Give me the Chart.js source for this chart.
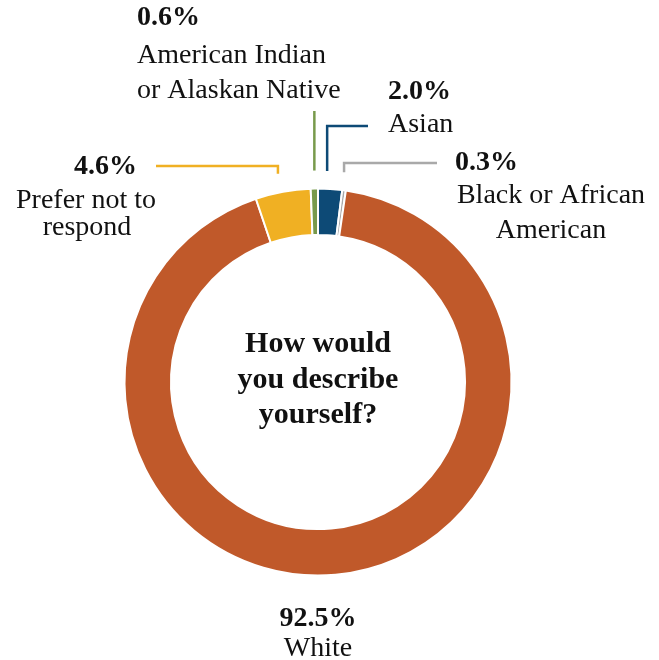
<!DOCTYPE html>
<html>
<head>
<meta charset="utf-8">
<script src="https://cdn.jsdelivr.net/npm/chart.js@4.4.1/dist/chart.umd.min.js"></script>
<style>
  html, body { margin: 0; padding: 0; background: #fff; }
  #wrap { width: 659px; height: 660px; }
</style>
</head>
<body>
<div id="wrap"><canvas id="grafico"></canvas></div>
<script>
const categorias = ['Asian', 'Black or African American', 'White', 'Prefer not to respond', 'American Indian or Alaskan Native'];
const percentuais = [2.0, 0.3, 92.5, 4.6, 0.6];
const cores = ['#0d4a76', '#a9a9a9', '#c0592a', '#f0b023', '#789a4c'];
const titulo = ['How would', 'you describe', 'yourself?'];

const FONTE = '"Liberation Serif", "Times New Roman", serif';

// rótulos de cada fatia (mesma ordem das categorias)
// pct: [x, baseline, align]; linhas: [texto, x, baseline, align]; guia: linha até a fatia
const rotulos = [
  { pct: [388, 99, 'left'], linhas: [['Asian', 388, 132, 'left']],
    guia: { dx: -3, topo: 126, ateX: 368 } },
  { pct: [455, 170, 'left'], linhas: [['Black or African', 551, 203, 'center'], ['American', 551, 238, 'center']],
    guia: { dx: 0, topo: 163, ateX: 437 } },
  { pct: [318, 626, 'center'], linhas: [['White', 318, 656, 'center']], guia: null },
  { pct: [137, 174, 'right'], linhas: [['Prefer not to', 86, 208, 'center'], ['respond', 87, 235, 'center']],
    guia: { dx: -5, topo: 166, ateX: 156 } },
  { pct: [137, 25, 'left'], linhas: [['American Indian', 137, 63, 'left'], ['or Alaskan Native', 137, 98, 'left']],
    guia: { dx: 0, topo: 111, ateX: null } }
];

const rotulosPlugin = {
  id: 'rotulos',
  afterDraw(chart) {
    const ctx = chart.ctx;
    const arcos = chart.getDatasetMeta(0).data;
    ctx.save();

    // linhas guia partindo do meio de cada fatia
    arcos.forEach((arco, i) => {
      const r = rotulos[i];
      if (!r.guia) return;
      const a = (arco.startAngle + arco.endAngle) / 2;
      const x = arco.x + arco.outerRadius * Math.cos(a) + r.guia.dx;
      const y = arco.y + arco.outerRadius * Math.sin(a) - 18;
      ctx.beginPath();
      ctx.moveTo(x, y);
      ctx.lineTo(x, r.guia.topo);
      if (r.guia.ateX !== null) ctx.lineTo(r.guia.ateX, r.guia.topo);
      ctx.strokeStyle = cores[i];
      ctx.lineWidth = 2.5;
      ctx.lineJoin = 'miter';
      ctx.stroke();
    });

    // textos
    ctx.fillStyle = '#111';
    ctx.textBaseline = 'alphabetic';
    rotulos.forEach((r, i) => {
      ctx.font = 'bold 28px ' + FONTE;
      ctx.textAlign = r.pct[2];
      ctx.fillText(percentuais[i].toFixed(1) + '%', r.pct[0], r.pct[1]);
      ctx.font = '28px ' + FONTE;
      r.linhas.forEach(l => {
        ctx.textAlign = l[3];
        ctx.fillText(l[0], l[1], l[2]);
      });
    });

    // pergunta no centro
    const cx = arcos[0].x;
    ctx.font = 'bold 30px ' + FONTE;
    ctx.textAlign = 'center';
    titulo.forEach((t, k) => ctx.fillText(t, cx, 352 + k * 35.5));
    ctx.restore();
  }
};

new Chart(document.getElementById('grafico'), {
  type: 'doughnut',
  data: {
    labels: categorias,
    datasets: [{
      data: percentuais,
      backgroundColor: cores,
      borderColor: '#fff',
      borderWidth: 2
    }]
  },
  options: {
    responsive: true,
    maintainAspectRatio: false,
    animation: false,
    events: [],
    radius: 193.5,
    cutout: '76%',
    layout: { padding: { left: 100, right: 123, top: 154, bottom: 50 } },
    plugins: {
      legend: { display: false },
      tooltip: { enabled: false }
    }
  },
  plugins: [rotulosPlugin]
});
</script>
</body>
</html>
